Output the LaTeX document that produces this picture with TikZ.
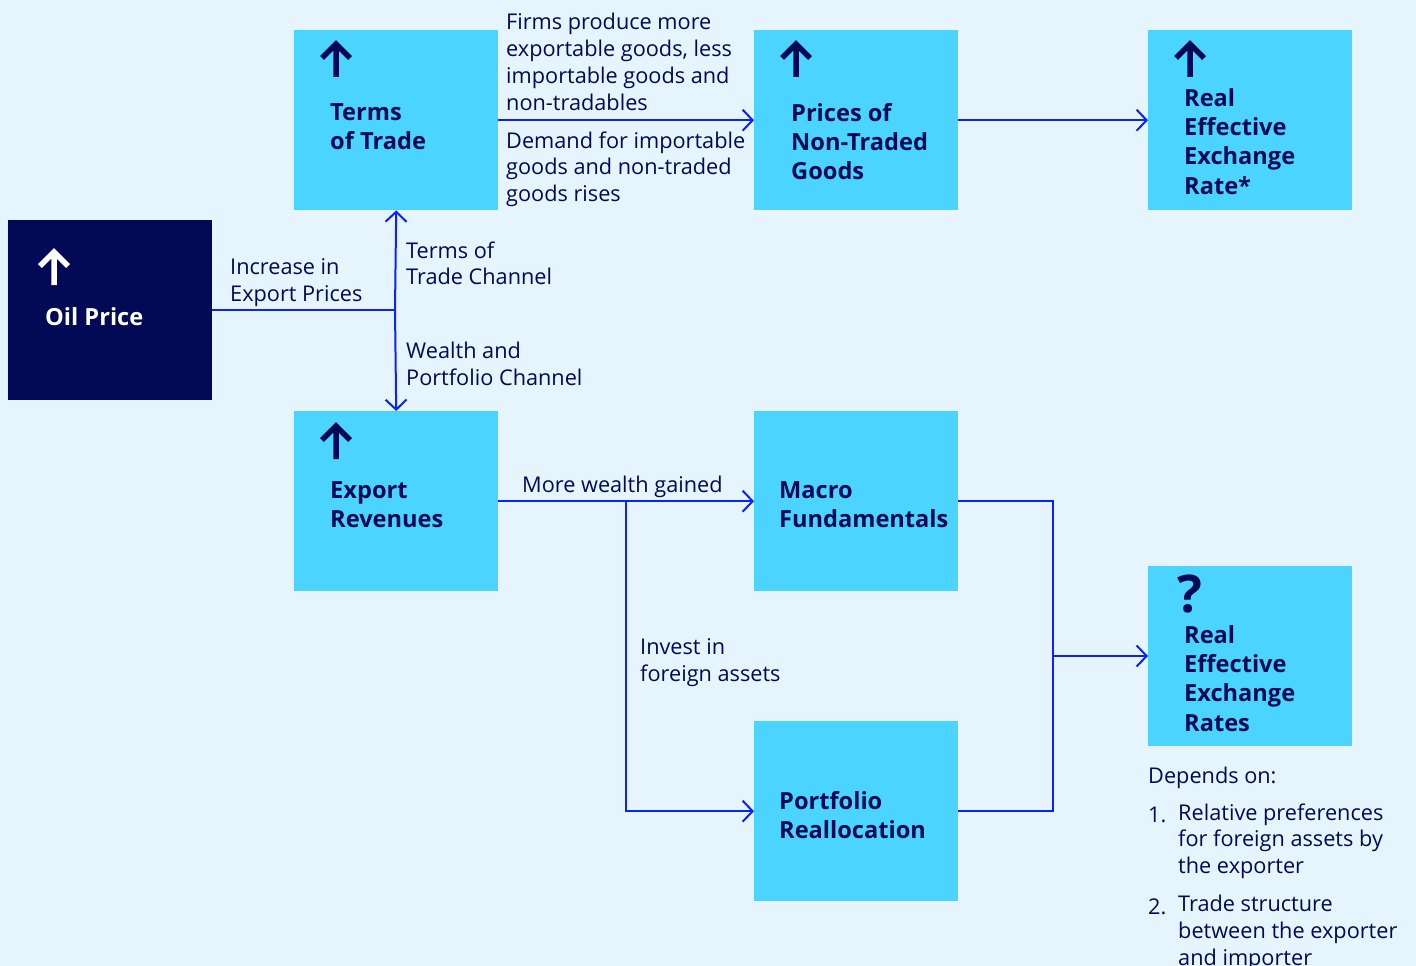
\documentclass[tikz,border=0pt]{standalone}
\usepackage{fontspec}
\setmainfont{Open Sans}
\usetikzlibrary{arrows.meta}
\definecolor{bg}{HTML}{E6F4FE}
\definecolor{boxc}{HTML}{4BD4FF}
\definecolor{navy}{HTML}{020A55}
\definecolor{lnc}{HTML}{0A22FF}
\tikzset{
  box/.style={fill=boxc, draw=none, minimum width=204pt, minimum height=180pt, inner sep=0pt},
  darkbox/.style={box, fill=navy},
  lbl/.style={anchor=north west, yshift=15.7pt, inner sep=0pt, align=left, text=navy, font={\fontsize{21.7}{26.7}\selectfont}, execute at begin node={\strut}},
  ttl/.style={anchor=north west, yshift=17pt, inner sep=0pt, align=left, text=navy, font={\fontsize{23.6}{29.3}\selectfont\bfseries}, execute at begin node={\strut}},
  conn/.style={draw=lnc, line width=2pt},
  arr/.style={conn, -{Straight Barb[length=10pt,width=21pt,line width=2pt]}},
  upicon/.style={line width=5.5pt, line cap=butt, line join=miter},
}
\begin{document}
\begin{tikzpicture}[x=1pt,y=-1pt]
\fill[bg] (0,0) rectangle (1416,966);
\useasboundingbox (0,0) rectangle (1416,966);
% boxes
\node[darkbox, anchor=north west] (oil) at (8,220) {};
\node[box, anchor=north west] (tot) at (294,30) {};
\node[box, anchor=north west] (pnt) at (754,30) {};
\node[box, anchor=north west] (reer1) at (1148,30) {};
\node[box, anchor=north west] (er) at (294,411) {};
\node[box, anchor=north west] (macro) at (754,411) {};
\node[box, anchor=north west] (port) at (754,721) {};
\node[box, anchor=north west] (reer2) at (1148,566) {};
% icons
\draw[upicon, white] (54,285) -- (54,252) (40,266) -- (54,252) -- (68,266);
\draw[upicon, navy] (336,77) -- (336,44) (322,58) -- (336,44) -- (350,58);
\draw[upicon, navy] (796,77) -- (796,44) (782,58) -- (796,44) -- (810,58);
\draw[upicon, navy] (1190,77) -- (1190,44) (1176,58) -- (1190,44) -- (1204,58);
\draw[upicon, navy] (336,459) -- (336,426) (322,440) -- (336,426) -- (350,440);
\node[anchor=base west, inner sep=0pt, text=navy, font={\fontsize{52}{52}\selectfont\bfseries}] (qm) at (1177,612) {?};
% titles
\node[ttl, text=white] (oilt) at (45,322) {Oil Price};
\node[ttl] (tott) at (330,120) {Terms\\of Trade};
\node[ttl] (pntt) at (791,120) {Prices of\\Non-Traded\\Goods};
\node[ttl] (reer1t) at (1184,105) {Real\\Effective\\Exchange\\Rate*};
\node[ttl] (ert) at (330,498) {Export\\Revenues};
\node[ttl] (macrot) at (779,498) {Macro\\Fundamentals};
\node[ttl] (portt) at (779,808) {Portfolio\\Reallocation};
\node[ttl] (reer2t) at (1184,642) {Real\\Effective\\Exchange\\Rates};
% connectors
\coordinate (j1) at (395,310);
\draw[conn] (oil.east |- j1) -- (j1);
\draw[arr] (j1) -- (tot.south);
\draw[arr] (j1) -- (er.north);
\draw[arr] (tot.east) -- (pnt.west);
\draw[arr] (pnt.east) -- (reer1.west);
\draw[arr] (er.east) -- (macro.west);
\coordinate (j2) at (626,501);
\draw[arr] (j2) |- (port.west);
\coordinate (j3) at (1053,656);
\draw[conn] (macro.east) -| (j3);
\draw[conn] (port.east) -| (j3);
\draw[arr] (j3) -- (reer2.west |- j3);
% labels
\node[lbl] (l1) at (506,29) {Firms produce more\\exportable goods, less\\importable goods and\\non-tradables};
\node[lbl] (l2) at (506,147) {Demand for importable\\goods and non-traded\\goods rises};
\node[lbl] (l3) at (406,257) {Terms of\\Trade Channel};
\node[lbl] (l4) at (230,274) {Increase in\\Export Prices};
\node[lbl] (l5) at (406,358) {Wealth and\\Portfolio Channel};
\node[lbl] (l6) at (522,489) {More wealth gained};
\node[lbl] (l7) at (640,654) {Invest in\\foreign assets};
\node[lbl] (l8) at (1148,780) {Depends on:};
\node[lbl] (n1) at (1148,819) {1.};
\node[lbl] (l9) at (1178,819) {Relative preferences\\for foreign assets by\\the exporter};
\node[lbl] (n2) at (1148,911) {2.};
\node[lbl] (l10) at (1178,911) {Trade structure\\between the exporter\\and importer};
\end{tikzpicture}
\end{document}
